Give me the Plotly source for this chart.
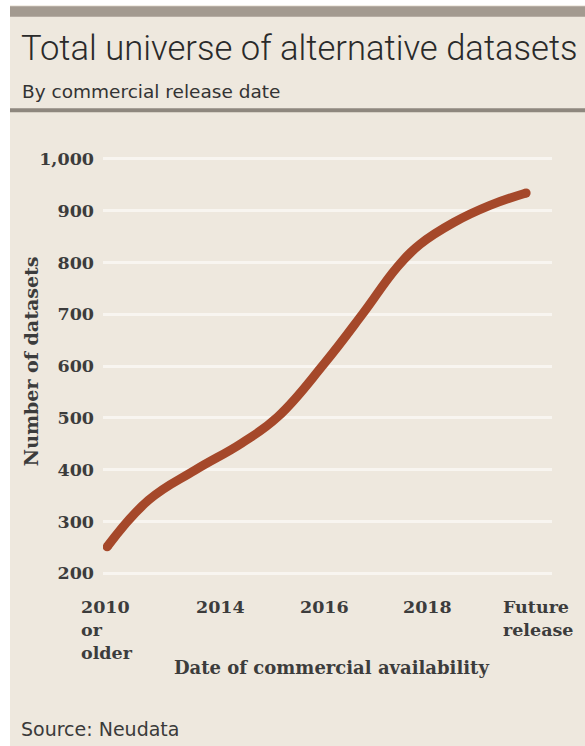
import plotly.graph_objects as go

# Cumulative count of alternative datasets by date of commercial availability
release_year = [2011.8, 2012.6, 2013.5, 2014.4, 2015.1, 2016.0,
                2016.75, 2017.4, 2017.85, 2018.5, 2019.2, 2019.9]
dataset_count = [251, 341, 399, 451, 502, 605,
                 702, 790, 835, 877, 910, 934]

# Category labels along the bottom axis and where they sit
x_tick_pos = [2011.8, 2014, 2016, 2018, 2020.12]
x_tick_text = ["2010<br>or<br>older", "2014", "2016", "2018", "Future<br>release"]
y_ticks = [200, 300, 400, 500, 600, 700, 800, 900, 1000]

W, H = 585, 746
PL, PR, PT, PB = 103, 552, 151.2, 580.8  # plot area in pixels


def fx(px):
    return (px - PL) / (PR - PL)


def fy(py):
    return (PB - py) / (PB - PT)


BG = "#eee8de"
LINE = "#a5482a"
TXT = "#3c3c3c"
TITLE_FONT = "Roboto, Liberation Sans, Arial, sans-serif"
SANS2 = "DejaVu Sans, sans-serif"
SERIF = "DejaVu Serif, serif"

fig = go.Figure()
fig.add_trace(go.Scatter(
    x=release_year, y=dataset_count, mode="lines",
    line=dict(color=LINE, width=9, shape="spline", smoothing=1.2),
    hoverinfo="skip", showlegend=False,
))
# rounded ends of the thick line
fig.add_trace(go.Scatter(
    x=[release_year[0], release_year[-1]], y=[dataset_count[0], dataset_count[-1]],
    mode="markers", marker=dict(color=LINE, size=9, line=dict(width=0)),
    hoverinfo="skip", showlegend=False,
))

shapes = [
    # white frame strips on the left and top
    dict(type="rect", xref="paper", yref="paper", x0=fx(0), x1=fx(10), y0=fy(H), y1=fy(0),
         fillcolor="white", line=dict(width=0), layer="below"),
    dict(type="rect", xref="paper", yref="paper", x0=fx(0), x1=fx(W), y0=fy(5.5), y1=fy(0),
         fillcolor="white", line=dict(width=0), layer="below"),
    # grey band at the top
    dict(type="rect", xref="paper", yref="paper", x0=fx(10), x1=fx(W), y0=fy(17), y1=fy(6.5),
         fillcolor="#a39a90", line=dict(width=0), layer="below"),
    # rule under the subtitle
    dict(type="rect", xref="paper", yref="paper", x0=fx(10), x1=fx(W), y0=fy(112.5), y1=fy(108.5),
         fillcolor="#8e877e", line=dict(width=0), layer="below"),
]

annotations = [
    dict(text="Total universe of alternative datasets", xref="paper", yref="paper",
         x=fx(19), y=fy(48), xanchor="left", yanchor="middle", showarrow=False,
         font=dict(family=TITLE_FONT, size=34.6, color="#2a2a2a", weight=300)),
    dict(text="By commercial release date", xref="paper", yref="paper",
         x=fx(20), y=fy(91.5), xanchor="left", yanchor="middle", showarrow=False,
         font=dict(family=SANS2, size=18.5, color="#333333")),
    dict(text="Source: Neudata", xref="paper", yref="paper",
         x=fx(19), y=fy(729), xanchor="left", yanchor="middle", showarrow=False,
         font=dict(family=SANS2, size=19, color="#3a3a3a")),
    dict(text="Number of datasets", xref="paper", yref="paper", textangle=-90,
         x=fx(31.7), y=fy(361.5), xanchor="center", yanchor="middle", showarrow=False,
         font=dict(family=SERIF, size=19, color=TXT, weight="bold")),
    dict(text="Date of commercial availability", xref="paper", yref="paper",
         x=fx(331.7), y=fy(667), xanchor="center", yanchor="middle", showarrow=False,
         font=dict(family=SERIF, size=18, color=TXT, weight="bold")),
]
for pos, label in zip(x_tick_pos, x_tick_text):
    annotations.append(dict(
        text=label, x=pos, xref="x", y=0, yref="paper", yanchor="top",
        xanchor="center", align="left", yshift=-14, showarrow=False,
        font=dict(family=SERIF, size=17.5, color=TXT, weight="bold")))

fig.update_layout(
    width=W, height=H, autosize=False,
    margin=dict(l=PL, r=W - PR, t=PT, b=H - PB, pad=0),
    paper_bgcolor=BG, plot_bgcolor=BG,
    shapes=shapes, annotations=annotations,
    xaxis=dict(range=[2011.72, 2020.40], showgrid=False, zeroline=False,
               showticklabels=False, showline=False, ticks="", fixedrange=True),
    yaxis=dict(range=[185, 1015], tickvals=y_ticks, tickformat=",",
               showgrid=True, gridcolor="#f8f5f0", gridwidth=3,
               zeroline=False, showline=False, ticks="", ticklabelstandoff=8,
               tickfont=dict(family=SERIF, size=17.5, color=TXT, weight="bold"),
               fixedrange=True),
)

fig.write_html("out.html", config={"displayModeBar": False})
